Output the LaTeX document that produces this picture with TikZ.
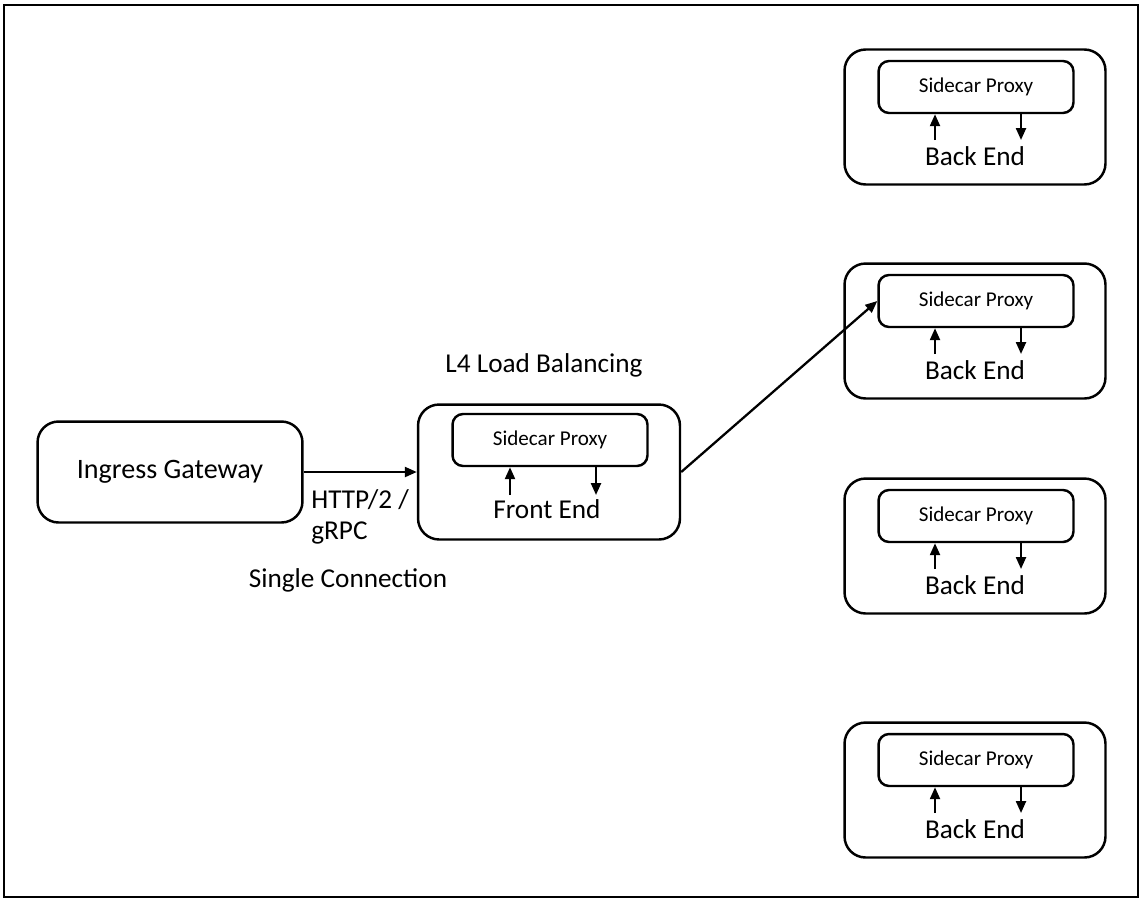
\documentclass[tikz,border=0pt]{standalone}
\usepackage{fontspec}
\setmainfont{Carlito}
\usetikzlibrary{arrows.meta}

\begin{document}
\begin{tikzpicture}[x=0.02cm,y=-0.02cm,
 svcbox/.style={draw,line width=1.4pt,rounded corners=12pt,inner sep=0pt},
 proxybox/.style={draw,line width=1.4pt,rounded corners=6pt,inner sep=0pt,minimum width=3.9cm,minimum height=1.04cm,font=\fontsize{12}{14}\selectfont},
 lbl/.style={inner sep=0pt,font=\fontsize{15.5}{18}\selectfont},
 tip/.style={line width=1.3pt,-{Triangle[length=2.4mm,width=2mm]}}]
 \useasboundingbox (0,0) rectangle (1141,900);
 \draw[line width=1.2pt] (4,5) rectangle (1138,897);
 % gateway and front end
 \node[svcbox,lbl,font=\fontsize{16}{19}\selectfont,minimum width=5.3cm,minimum height=2.02cm] (ingress) at (170,472) {Ingress Gateway};
 \node[svcbox,minimum width=5.24cm,minimum height=2.7cm] (fe) at (549,472) {};
 \node[proxybox] (fepx) at (550,440) {Sidecar Proxy};
 \node[lbl] (fetxt) at (547,509) {Front End};
 \coordinate (feup) at (510,495);
 \coordinate (fedn) at (596,495);
 \draw[tip] (feup) -- (feup |- fepx.south);
 \draw[tip] (fedn |- fepx.south) -- (fedn);
 \node[lbl,anchor=west] (proto) at (311,500) {HTTP/2 /};
 \node[lbl,anchor=west] (grpc) at (311,533) {gRPC};
 \node[lbl] (single) at (348,580) {Single Connection};
 \node[lbl] (lb) at (544,365) {L4 Load Balancing};
 % back ends
 \foreach \i/\t in {1/50,2/264,3/479,4/723}{
  \node[svcbox,minimum width=5.22cm,minimum height=2.7cm] (be\i) at (975,\t+67) {};
  \node[proxybox] (px\i) at (976,\t+37) {Sidecar Proxy};
  \node[lbl] (betxt\i) at (975,\t+106) {Back End};
  \coordinate (beup\i) at (935,\t+90);
  \coordinate (bedn\i) at (1021,\t+90);
  \draw[tip] (beup\i) -- (beup\i |- px\i.south);
  \draw[tip] (bedn\i |- px\i.south) -- (bedn\i);
 }
 \draw[tip] (ingress) -- (fe);
 \draw[tip] (fe.east) -- (px2.west);
\end{tikzpicture}
\end{document}
